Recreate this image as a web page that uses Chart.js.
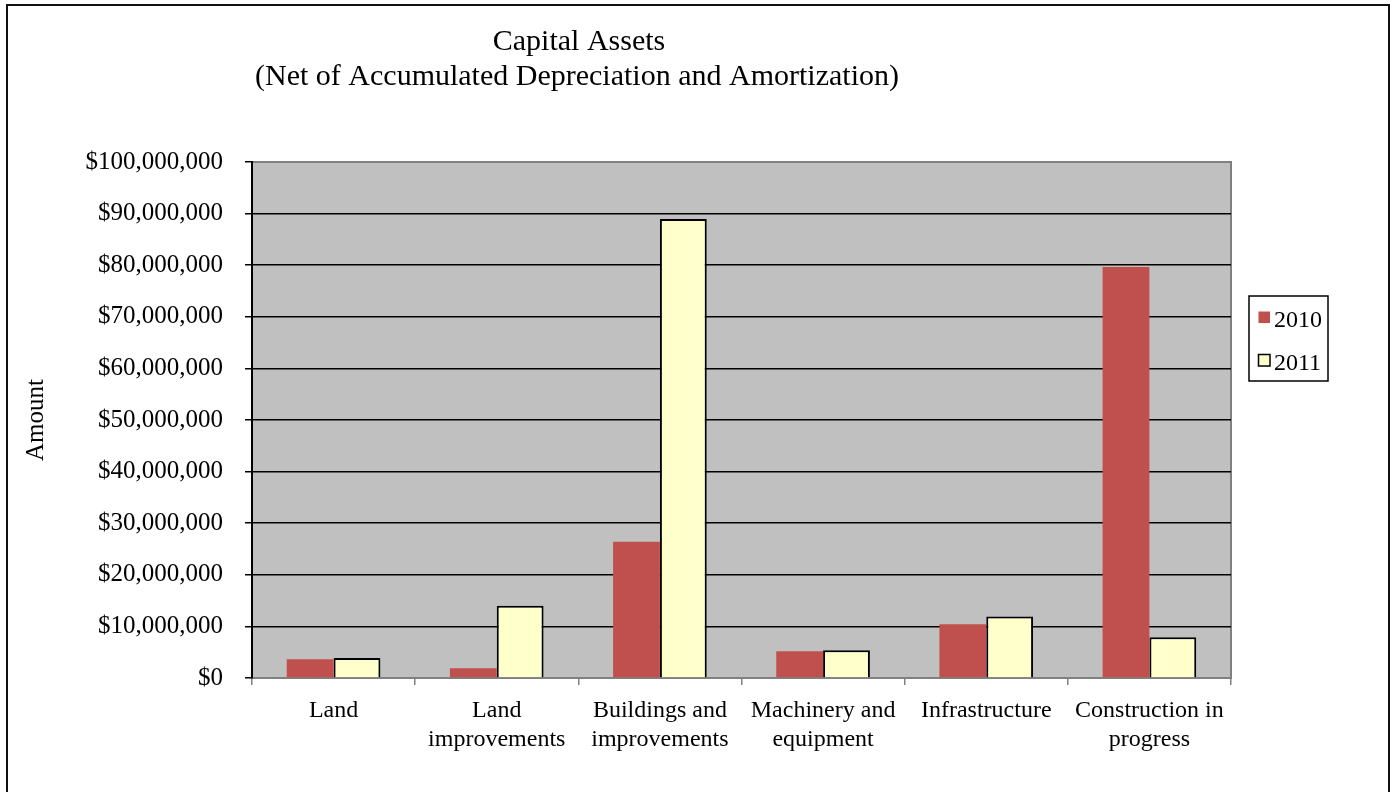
<!DOCTYPE html>
<html>
<head>
<meta charset="utf-8">
<script src="https://cdn.jsdelivr.net/npm/chart.js@4.4.1/dist/chart.umd.min.js"></script>
<style>
  html, body { margin: 0; padding: 0; background: #fff; }
  #frame { position: absolute; left: 6px; top: 4px; width: 1384px; height: 900px; border: 2px solid #111; box-sizing: border-box; }
  #c { position: absolute; left: 0; top: 0; }
</style>
</head>
<body>
<div id="frame"></div>
<canvas id="c" width="1395" height="792"></canvas>
<script>
const categories = [
  ["Land"],
  ["Land", "improvements"],
  ["Buildings and", "improvements"],
  ["Machinery and", "equipment"],
  ["Infrastructure"],
  ["Construction in", "progress"]
];
const values2010 = [3650000, 1870000, 26400000, 5200000, 10400000, 79650000];
const values2011 = [3900000, 13980000, 88950000, 5400000, 11900000, 7900000];
const seriesLabels = ["2010", "2011"];
const titleLines = ["Capital Assets", "(Net of Accumulated Depreciation and Amortization)"];
const yAxisTitle = "Amount";
const yMin = 0, yMax = 100000000, yStep = 10000000;

const FONT = "'Liberation Serif', 'Times New Roman', serif";

const plotBgPlugin = {
  id: 'plotBg',
  beforeDraw(chart) {
    const {ctx, chartArea: a} = chart;
    ctx.save();
    ctx.fillStyle = '#C0C0C0';
    ctx.fillRect(a.left, a.top, a.right - a.left, a.bottom - a.top);
    ctx.strokeStyle = '#808080';
    ctx.lineWidth = 2;
    ctx.strokeRect(a.left, a.top, a.right - a.left, a.bottom - a.top);
    ctx.restore();
  }
};

const titlePlugin = {
  id: 'customTitle',
  afterDraw(chart) {
    const ctx = chart.ctx;
    ctx.save();
    ctx.fillStyle = '#000';
    ctx.font = "30px " + FONT;
    ctx.textAlign = 'center';
    ctx.textBaseline = 'alphabetic';
    ctx.fillText(titleLines[0], 579, 50);
    ctx.fillText(titleLines[1], 577, 85);
    ctx.restore();
  }
};

const legendPlugin = {
  id: 'customLegend',
  afterDraw(chart) {
    const ctx = chart.ctx;
    ctx.save();
    ctx.strokeStyle = '#000';
    ctx.lineWidth = 1.5;
    ctx.fillStyle = '#fff';
    ctx.fillRect(1249, 296, 79, 85);
    ctx.strokeRect(1249, 296, 79, 85);
    ctx.font = "24px " + FONT;
    ctx.textAlign = 'left';
    ctx.textBaseline = 'alphabetic';
    chart.data.datasets.forEach((ds, i) => {
      const y = 311.5 + i * 43;
      ctx.fillStyle = ds.backgroundColor;
      ctx.fillRect(1258.5, y, 11.5, 11.5);
      if (ds.borderWidth) {
        ctx.lineWidth = 1.5;
        ctx.strokeStyle = '#000';
        ctx.strokeRect(1258.5, y, 11.5, 11.5);
      }
      ctx.fillStyle = '#000';
      ctx.fillText(ds.label, 1274, y + 15);
    });
    ctx.restore();
  }
};

new Chart(document.getElementById('c'), {
  type: 'bar',
  data: {
    labels: categories,
    datasets: [
      { label: seriesLabels[0], data: values2010, backgroundColor: '#C0504D', borderWidth: 0 },
      { label: seriesLabels[1], data: values2011, backgroundColor: '#FFFFCC', borderColor: '#000', borderWidth: 2 }
    ]
  },
  options: {
    responsive: false,
    animation: false,
    devicePixelRatio: 1,
    layout: { padding: { top: 162, right: 164, left: 0, bottom: 0 } },
    datasets: { bar: { categoryPercentage: 0.574, barPercentage: 1.0 } },
    plugins: {
      legend: { display: false },
      title: { display: false },
      tooltip: { enabled: false }
    },
    scales: {
      x: {
        afterFit(s) { s.height = 114; },
        border: { display: true, color: '#808080', width: 2 },
        grid: { offset: true, drawOnChartArea: false, drawTicks: true, tickLength: 7, color: '#808080', lineWidth: 1.5 },
        ticks: { color: '#000', padding: 12, maxRotation: 0, autoSkip: false,
                 font: { family: FONT, size: 24, lineHeight: 1.18 } }
      },
      y: {
        min: yMin, max: yMax,
        afterFit(s) { s.width = 252; },
        border: { display: true, color: '#000', width: 2 },
        grid: {
          color: (c) => (c.tick && c.tick.value === yMax) ? 'rgba(0,0,0,0)' : '#000',
          tickColor: '#000',
          lineWidth: 1.5,
          tickLength: 7
        },
        ticks: {
          stepSize: yStep, color: '#000', padding: 22,
          font: { family: FONT, size: 25 },
          callback: (v) => '$' + Number(v).toLocaleString('en-US')
        },
        title: { display: true, text: yAxisTitle, color: '#000',
                 font: { family: FONT, size: 25, lineHeight: 1.2 }, padding: { top: 21, bottom: 0 } }
      }
    }
  },
  plugins: [plotBgPlugin, titlePlugin, legendPlugin]
});
</script>
</body>
</html>
